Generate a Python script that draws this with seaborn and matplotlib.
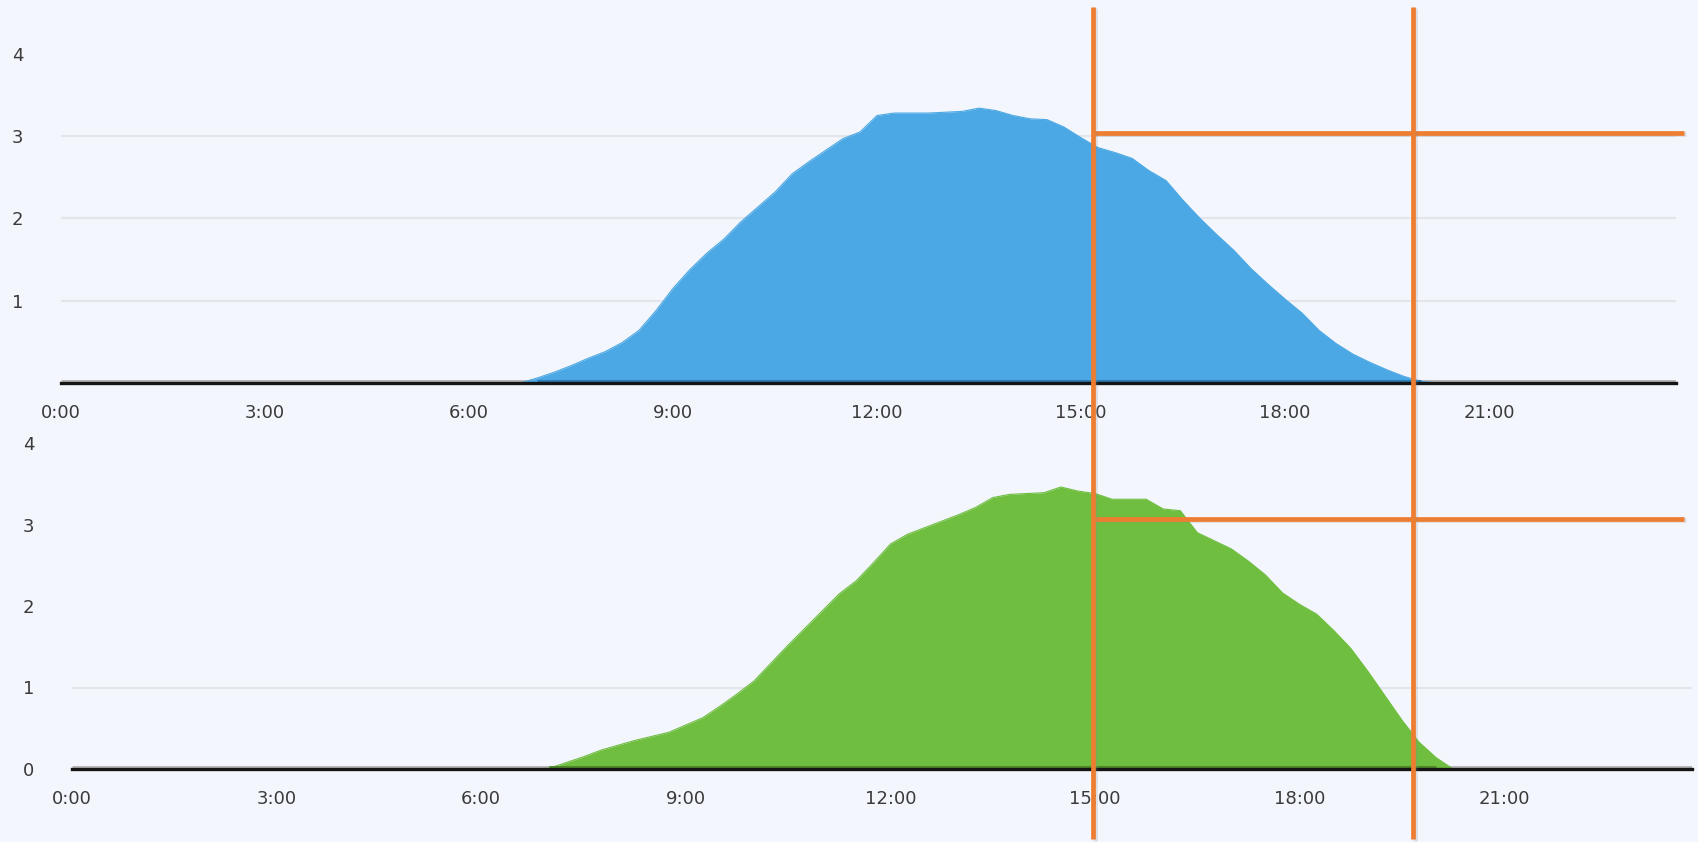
import numpy as np
import pandas as pd
import matplotlib
matplotlib.use("Agg")
import matplotlib.pyplot as plt
import matplotlib.transforms as mtransforms
import matplotlib.patheffects as pe
from matplotlib.lines import Line2D
import seaborn as sns

# ---------------- data ----------------
hours = [i * 0.25 for i in range(96)]  # 0:00 .. 23:45, 15-min steps

# top (blue) series, values from 6:45 to 20:15, zero elsewhere
blue_day = [0.00, 0.06, 0.13, 0.21, 0.30, 0.38, 0.49, 0.64, 0.88, 1.15,
            1.38, 1.58, 1.75, 1.96, 2.14, 2.32, 2.54, 2.69, 2.83, 2.97,
            3.05, 3.25, 3.28, 3.28, 3.28, 3.29, 3.30, 3.34, 3.31, 3.25,
            3.21, 3.20, 3.11, 2.98, 2.86, 2.80, 2.73, 2.58, 2.46, 2.22,
            2.00, 1.80, 1.61, 1.39, 1.20, 1.02, 0.85, 0.64, 0.48, 0.35,
            0.25, 0.16, 0.08, 0.02, 0.00]
# bottom (green) series, values from 6:45 to 20:15
green_day = [0.00, 0.01, 0.08, 0.15, 0.23, 0.29, 0.35, 0.40, 0.45, 0.54,
             0.63, 0.77, 0.92, 1.08, 1.30, 1.52, 1.73, 1.94, 2.15, 2.31,
             2.53, 2.76, 2.88, 2.96, 3.04, 3.12, 3.21, 3.33, 3.37, 3.38,
             3.39, 3.46, 3.41, 3.38, 3.31, 3.31, 3.31, 3.19, 3.17, 2.90,
             2.80, 2.70, 2.55, 2.38, 2.16, 2.02, 1.90, 1.70, 1.48, 1.20,
             0.90, 0.60, 0.33, 0.14, 0.00]
night_before = [0.0] * 27   # 0:00 .. 6:30
night_after = [0.0] * 14    # 20:30 .. 23:45
blue_values = night_before + blue_day + night_after
green_values = night_before + green_day + night_after

x_ticks = [0, 3, 6, 9, 12, 15, 18, 21]
x_tick_labels = ["0:00", "3:00", "6:00", "9:00", "12:00", "15:00", "18:00", "21:00"]
top_y_ticks = [1, 2, 3, 4]
bottom_y_ticks = [0, 1, 2, 3, 4]
top_grid = [1, 2, 3]
bottom_grid = [1]

marker_hours = [15.18, 19.88]      # orange vertical markers (top-axis hours)
threshold_levels = [3.04, 3.07]    # orange horizontal levels (top, bottom)
threshold_end = 23.87              # right end of horizontal markers (top-axis hours)

BG = "#F3F6FD"
BLUE = "#4BA8E4"
GREEN = "#6FBE40"
ORANGE = "#ED7D31"
TXT = "#3A3A3A"

sns.set_theme(style="white")
plt.rcParams["font.family"] = ["DejaVu Sans"]

W, H = 1698, 842
fig = plt.figure(figsize=(W / 100, H / 100), dpi=100, facecolor=BG)

ax_top = fig.add_axes([61 / W, (H - 383) / H, 23.75 * 68.0 / W, 4.1 * 82.3 / H])
ax_bot = fig.add_axes([72 / W, (H - 769) / H, 23.75 * 68.2 / W, 4.1 * 81.5 / H])

df = pd.DataFrame({"hour": hours, "blue": blue_values, "green": green_values})

for ax, col, color, dark, yticks, grid in [
    (ax_top, "blue", BLUE, "#2F7CB3", top_y_ticks, top_grid),
    (ax_bot, "green", GREEN, "#4E8A2A", bottom_y_ticks, bottom_grid),
]:
    ax.set_facecolor(BG)
    for g in grid:
        ax.axhline(g, color="#E4E5EA", lw=1.6, zorder=0.5)
    up = mtransforms.offset_copy(ax.transData, fig=fig, x=0, y=2.2, units="dots")
    ax.plot(df["hour"], np.zeros(len(df)), color="#B8B8B8", lw=2.2,
            transform=up, zorder=1, solid_capstyle="butt")
    ax.fill_between(df["hour"], 0, df[col], color=color, lw=0, zorder=2)
    sns.lineplot(data=df, x="hour", y=col, ax=ax, color=color, lw=0.8, zorder=2.1)
    pos = np.where(df[col].values > 0, 0.0, np.nan)
    ax.plot(df["hour"], pos, color=dark, lw=2.2, transform=up, zorder=2.2,
            solid_capstyle="butt")
    ax.set_xlim(0, 23.75)
    ax.set_ylim(0, 4.1)
    ax.set_xticks(x_ticks)
    ax.set_xticklabels(x_tick_labels)
    ax.set_yticks(yticks)
    ax.set_yticklabels([str(t) for t in yticks])
    ax.set_xlabel("")
    ax.set_ylabel("")
    for s in ["top", "right", "left"]:
        ax.spines[s].set_visible(False)
    ax.spines["bottom"].set_color("#151515")
    ax.spines["bottom"].set_linewidth(2.4)
    ax.spines["bottom"].set_zorder(3)
    ax.tick_params(axis="x", length=0, pad=15, labelsize=13, labelcolor=TXT)
    ax.tick_params(axis="y", length=0, pad=27, labelsize=13, labelcolor=TXT)
    ax.grid(False)

effects = [pe.SimpleLineShadow(offset=(1.2, -1.2), shadow_color="#8a8a8a", alpha=0.22),
           pe.Normal()]

# vertical orange markers spanning the whole figure
vtrans = mtransforms.blended_transform_factory(ax_top.transData, fig.transFigure)
for mx in marker_hours:
    ln = Line2D([mx, mx], [0.003, 0.992], transform=vtrans, color=ORANGE, lw=3.4,
                zorder=10, path_effects=effects, solid_capstyle="butt")
    fig.add_artist(ln)

# horizontal orange markers
for ax, lvl in [(ax_top, threshold_levels[0]), (ax_bot, threshold_levels[1])]:
    htrans = mtransforms.blended_transform_factory(ax_top.transData, ax.transData)
    ln = Line2D([marker_hours[0], threshold_end], [lvl, lvl], transform=htrans,
                color=ORANGE, lw=3.4, zorder=9, path_effects=effects,
                solid_capstyle="butt")
    fig.add_artist(ln)

fig.savefig("out.png", dpi=100, facecolor=BG)
